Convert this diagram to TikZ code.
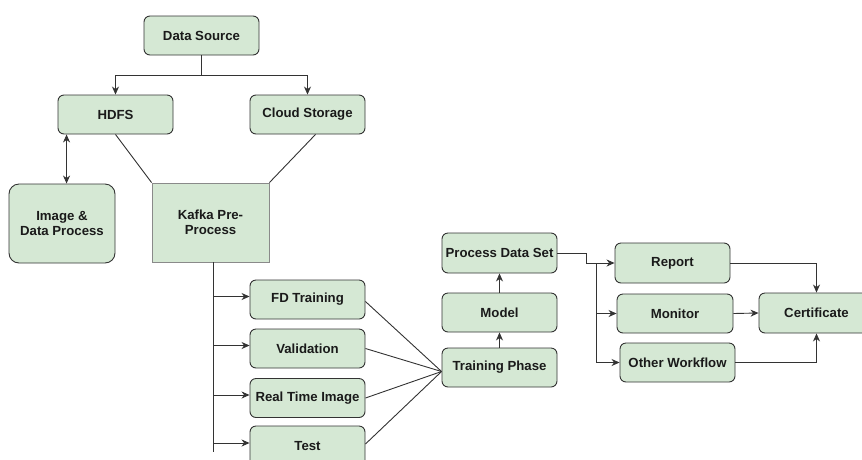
\documentclass[tikz,border=0pt]{standalone}
\usepackage{fontspec}
\setmainfont{Liberation Sans}
\usetikzlibrary{arrows.meta,calc}
\definecolor{boxfill}{HTML}{D5E8D4}
\definecolor{boxline}{HTML}{333333}
\definecolor{kline}{HTML}{8A8A8A}
\definecolor{txt}{HTML}{1A1A1A}
\tikzset{
  box/.style={draw=boxline, fill=boxfill, line width=0.9pt, rounded corners=6pt,
    minimum width=115pt, minimum height=39pt, inner sep=1pt, align=center,
    font=\fontsize{13.2}{15}\selectfont\bfseries, text=txt},
  kbox/.style={box, draw=kline, rounded corners=0pt},
  conn/.style={draw=boxline, line width=0.9pt},
  tip/.tip={Stealth[length=8pt,width=7pt,inset=2.5pt]},
  arr/.style={conn, -tip},
  dbl/.style={conn, tip-tip}
}
\begin{document}
\begin{tikzpicture}[x=1pt,y=-1pt]
\useasboundingbox (0,0) rectangle (862,459);
% nodes
\node[box] (ds) at (201.5,35.5) {Data Source};
\node[box] (hdfs) at (115.5,114.5) {HDFS};
\node[box] (cloud) at (307.5,114.5) {Cloud Storage};
\node[box, minimum width=106pt, minimum height=79pt, rounded corners=10pt] (img) at (62,223.5) {Image \&\\Data Process};
\node[kbox, minimum width=117pt, minimum height=79pt] (kafka) at (210.5,222.5) {Kafka Pre-\\Process};
\node[box] (fd) at (307.5,299.5) {FD Training};
\node[box] (val) at (307.5,348.5) {Validation};
\node[box] (rti) at (307.5,398) {Real Time Image};
\node[box, minimum height=40pt] (test) at (307.5,446) {Test};
\node[box] (train) at (499.5,367.5) {Training Phase};
\node[box] (model) at (499.5,312.5) {Model};
\node[box, minimum height=40pt] (pds) at (499.5,253) {Process Data Set};
\node[box, minimum height=40pt] (report) at (672.5,263) {Report};
\node[box, minimum width=116pt] (monitor) at (675,313.5) {Monitor};
\node[box] (other) at (677.5,362.5) {Other Workflow};
\node[box, minimum height=40pt] (cert) at (816.5,313) {Certificate};
% top fork
\coordinate (j1) at (201.5,75);
\draw[conn] (ds.south) -- (j1);
\draw[arr] (j1) -| (hdfs.north);
\draw[arr] (j1) -| (cloud.north);
% hdfs <-> image
\coordinate (ha) at ($(hdfs.south west)+(9,0)$);
\draw[dbl] (ha) -- (ha |- img.north);
% into kafka
\draw[conn] (hdfs.south) -- (kafka.north west);
\draw[conn] ($(cloud.south)+(8,0)$) -- (kafka.north east);
% kafka trunk
\coordinate (kt) at ($(kafka.south)+(2.5,0)$);
\coordinate (kend) at (kt |- 0,452);
\draw[conn] (kt) -- (kend);
\foreach \n in {fd,val,rti,test}{
  \draw[arr] ($(\n.west -| kt)+(0,-3)$) -- ($(\n.west)+(0,-3)$);
}
% to training phase
\coordinate (tp) at ($(train.west)+(0,4)$);
\draw[conn] ($(fd.east)+(0,2)$) -- (tp);
\draw[conn] (val.east) -- (tp);
\draw[conn] (rti.east) -- (tp);
\draw[conn] ($(test.east)+(0,-2)$) -- (tp);
% vertical stack
\draw[arr] (train.north) -- (model.south);
\draw[arr] (model.north) -- (pds.south);
% process data set fan out
\coordinate (p1) at (586,253);
\coordinate (p2) at (586,263);
\coordinate (b1) at (596,263);
\draw[arr] (pds.east) -- (p1) -- (p2) -- (report.west);
\draw[arr] (b1) |- (monitor.west);
\draw[arr] (b1) |- (other.west);
% to certificate
\draw[arr] (report.east) -| (cert.north);
\draw[arr] (monitor.east) -- (cert.west);
\draw[arr] (other.east) -| (cert.south);
\end{tikzpicture}
\end{document}
